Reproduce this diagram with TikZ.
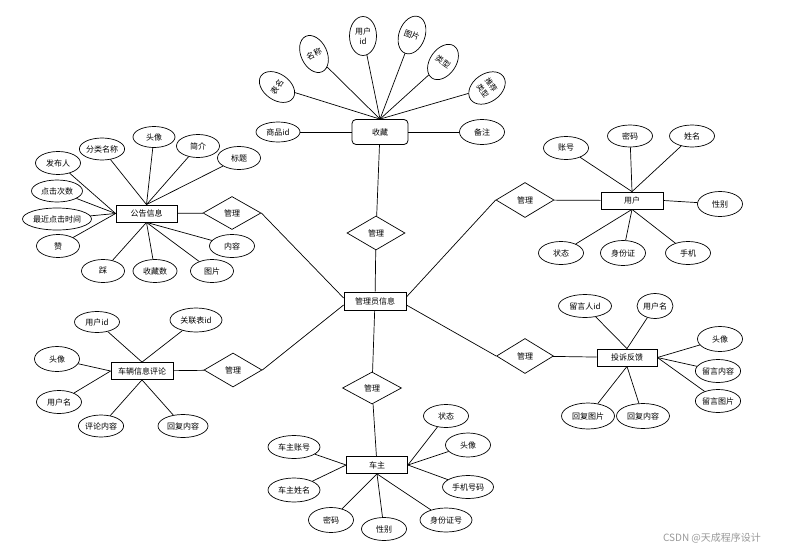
\documentclass[tikz,border=0pt]{standalone}
\usepackage{fontspec}
\setmainfont{Noto Sans CJK SC}
\usetikzlibrary{shapes.geometric}
\begin{document}
\begin{tikzpicture}[x=1pt,y=-1pt,
  every node/.style={font=\fontsize{8}{9.5}\selectfont, inner sep=0pt},
  ent/.style={draw, line width=0.8pt, fill=white, minimum width=61pt, minimum height=17pt},
  att/.style={draw, ellipse, line width=0.7pt, fill=white, minimum width=45pt, minimum height=23pt},
  tall/.style={draw, ellipse, line width=0.7pt, fill=white, minimum width=26pt, minimum height=39pt, align=center},
  rel/.style={draw, diamond, line width=0.7pt, fill=white, minimum width=58pt, minimum height=34pt},
  lnk/.style={line width=0.7pt}]
\useasboundingbox[fill=white] (0,0) rectangle (792,554);

% ---------- centre ----------
\node[ent, minimum width=62pt, minimum height=18pt] (cb) at (375,301) {管理员信息};

% ---------- 收藏 ----------
\node[ent, rounded corners=4pt, minimum width=56pt, minimum height=25pt] (sc) at (380,132) {收藏};
\node[rel] (d1) at (376,233) {管理};
\node[att, minimum width=44pt, minimum height=20pt] (sc1) at (278,132) {商品id};
\node[att, minimum height=25pt] (sc2) at (482,132) {备注};
\node[tall, rotate=55] (sc3) at (277,87) {表名};
\node[tall, rotate=25] (sc4) at (314,54) {名称};
\node[tall, minimum width=27pt, font=\fontsize{8}{10}\selectfont] (sc5) at (363,36) {用户\\id};
\node[tall, rotate=-20] (sc6) at (412,35) {图片};
\node[tall, rotate=-35] (sc7) at (443,62) {类型};
\node[tall, rotate=-55, minimum width=28pt, minimum height=40pt, font=\fontsize{7.5}{10.5}\selectfont] (sc8) at (487,88) {推荐\\类型};
\draw[lnk] (sc1) -- (sc.west);
\draw[lnk] (sc2) -- (sc.east);
\foreach \n in {sc3,sc4,sc5,sc6,sc7,sc8} \draw[lnk] (\n) -- (sc.north);
\draw[lnk] (sc) -- (d1);
\draw[lnk] (d1) -- (cb);

% ---------- 公告信息 ----------
\node[ent] (gg) at (146.5,213.5) {公告信息};
\node[rel, minimum height=33pt] (d2) at (232,213) {管理};
\node[att, minimum width=42pt, minimum height=22pt] (g1) at (102,149) {分类名称};
\node[att, minimum width=42pt, minimum height=21pt] (g2) at (154,137) {头像};
\node[att, minimum width=43pt] (g3) at (198,146) {简介};
\node[att, minimum width=43pt] (g4) at (239,158) {标题};
\node[att] (g5) at (58,163) {发布人};
\node[att, minimum width=51pt, minimum height=22pt] (g6) at (57,191) {点击次数};
\node[att, minimum width=69pt, minimum height=22pt] (g7) at (57,219) {最近点击时间};
\node[att, minimum width=43pt] (g8) at (58,246) {赞};
\node[att, minimum width=43pt] (g9) at (103,271) {踩};
\node[att, minimum width=44pt] (g10) at (155,271) {收藏数};
\node[att, minimum width=43pt] (g11) at (212,271) {图片};
\node[att] (g12) at (232,246) {内容};
\foreach \n in {g1,g2,g3,g4} \draw[lnk] (\n) -- (gg.north);
\foreach \n in {g5,g6,g7,g8} \draw[lnk] (\n) -- (gg.west);
\foreach \n in {g9,g10,g11,g12} \draw[lnk] (\n) -- (gg.south);
\draw[lnk] (gg) -- (d2);
\draw[lnk] (d2.east) -- ([yshift=3pt]cb.west);

% ---------- 用户 ----------
\node[ent, minimum width=62pt] (yh) at (632,200.5) {用户};
\node[rel, minimum height=35pt] (d3) at (525,200) {管理};
\node[att, minimum height=23pt] (y1) at (566,148) {账号};
\node[att, minimum height=22pt] (y2) at (630,136) {密码};
\node[att, minimum height=22pt] (y3) at (692,136) {姓名};
\node[att, minimum height=25pt] (y4) at (720,204) {性别};
\node[att] (y5) at (561,253) {状态};
\node[att, minimum height=25pt] (y6) at (623,253) {身份证};
\node[att] (y7) at (688,253) {手机};
\foreach \n in {y1,y2,y3} \draw[lnk] (\n) -- (yh.north);
\draw[lnk] (y4) -- (yh.east);
\foreach \n in {y5,y6,y7} \draw[lnk] (\n) -- (yh.south);
\draw[lnk] (d3) -- (yh);
\draw[lnk] (d3.west) -- ([yshift=4pt]cb.east);

% ---------- 车辆信息评论 ----------
\node[ent, minimum width=62pt] (pl) at (142,371) {车辆信息评论};
\node[rel] (d4) at (233,370) {管理};
\node[att, minimum height=21pt] (p1) at (97,322) {用户id};
\node[att, minimum width=52pt, minimum height=24pt] (p2) at (196,320) {关联表id};
\node[att, minimum height=25pt] (p3) at (57,359) {头像};
\node[att] (p4) at (59,402) {用户名};
\node[att, minimum height=22pt] (p5) at (101,426) {评论内容};
\node[att, minimum width=50pt] (p6) at (183,426) {回复内容};
\foreach \n in {p1,p2} \draw[lnk] (\n) -- (pl.north);
\foreach \n in {p3,p4} \draw[lnk] (\n) -- (pl.west);
\foreach \n in {p5,p6} \draw[lnk] (\n) -- (pl.south);
\draw[lnk] (pl) -- (d4);
\draw[lnk] (d4.east) -- ([yshift=-4pt]cb.west);

% ---------- 投诉反馈 ----------
\node[ent, minimum width=60pt] (ts) at (627,357.5) {投诉反馈};
\node[rel, minimum width=57pt, minimum height=35pt] (d5) at (525,356) {管理};
\node[att, minimum width=53pt] (t1) at (585,306) {留言人id};
\node[att, minimum width=36pt, minimum height=25pt] (t2) at (655,306) {用户名};
\node[att, minimum height=25pt] (t3) at (720,339) {头像};
\node[att, minimum width=44pt] (t4) at (718,371) {留言内容};
\node[att, minimum width=44pt] (t5) at (718,401) {留言图片};
\node[att, minimum width=53pt, minimum height=26pt] (t6) at (588,416) {回复图片};
\node[att, minimum width=53pt, minimum height=25pt] (t7) at (643,416) {回复内容};
\foreach \n in {t1,t2} \draw[lnk] (\n) -- (ts.north);
\foreach \n in {t3,t4,t5} \draw[lnk] (\n) -- (ts.east);
\foreach \n in {t6,t7} \draw[lnk] (\n) -- (ts.south);
\draw[lnk] (d5) -- (ts);
\draw[lnk] (d5.west) -- ([yshift=-4pt]cb.east);

% ---------- 车主 ----------
\node[rel, minimum width=59pt, minimum height=32pt] (d6) at (372,388) {管理};
\node[ent] (cz) at (377,465) {车主};
\node[att] (c1) at (446,416) {状态};
\node[att, minimum height=24pt] (c2) at (468,445) {头像};
\node[att, minimum width=51pt] (c3) at (468,487) {手机号码};
\node[att, minimum width=52pt, minimum height=24pt] (c4) at (446,520) {身份证号};
\node[att] (c5) at (384,529) {性别};
\node[att, minimum height=25pt] (c6) at (331,520) {密码};
\node[att, minimum width=52pt, minimum height=24pt] (c7) at (294,490) {车主姓名};
\node[att, minimum width=52pt] (c8) at (294,447) {车主账号};
\foreach \n in {c1,c2,c3} \draw[lnk] (\n) -- (cz.east);
\foreach \n in {c4,c5,c6} \draw[lnk] (\n) -- (cz.south);
\foreach \n in {c7,c8} \draw[lnk] (\n) -- (cz.west);
\draw[lnk] (cb) -- (d6);
\draw[lnk] (d6) -- (cz);

% ---------- watermark ----------
\node[text=black!40, font=\fontsize{10}{12}\selectfont] (wm) at (712,538) {CSDN @天成程序设计};
\end{tikzpicture}
\end{document}
